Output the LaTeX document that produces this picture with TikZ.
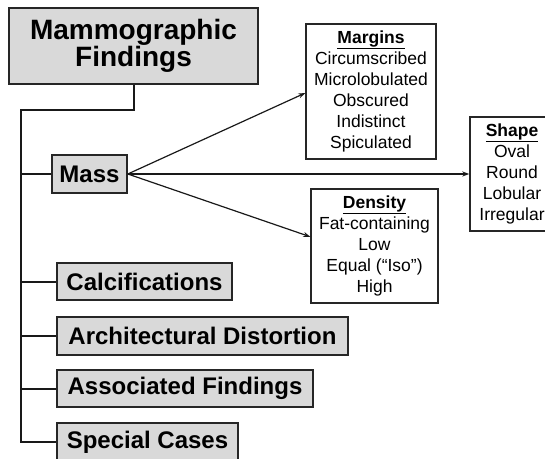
\documentclass[tikz,border=0pt]{standalone}
\usepackage{fontspec}
\setmainfont{Liberation Sans}
\usetikzlibrary{arrows.meta,calc}
\begin{document}
\begin{tikzpicture}[x=1pt,y=-1pt,
  graybox/.style={draw=black!85,line width=1.6pt,fill=black!15,inner sep=0pt,font=\fontsize{24}{28}\selectfont\bfseries},
  infobox/.style={draw=black!85,line width=1.4pt,fill=white,inner sep=0pt,align=center,font=\fontsize{17.5}{21}\selectfont},
  tree/.style={line width=2pt,black!90},
  arr/.style={line width=1.2pt,black!90,-{Stealth[length=7pt,width=5pt]}}]
\useasboundingbox (0,0) rectangle (545,458);
\node[graybox,minimum width=249pt,minimum height=76pt,align=center,font=\fontsize{28}{26}\selectfont\bfseries] (title) at (133.5,46) {Mammographic\\Findings};
\node[graybox,minimum width=75pt,minimum height=38pt] (mass) at (89.5,174) {Mass};
\node[graybox,minimum width=175pt,minimum height=37pt] (calc) at (144.5,281.5) {Calcifications};
\node[graybox,minimum width=291pt,minimum height=38pt] (arch) at (202.5,336) {Architectural Distortion};
\node[graybox,minimum width=256pt,minimum height=37pt] (assoc) at (185,388.5) {Associated Findings};
\node[graybox,minimum width=181pt,minimum height=38pt] (spec) at (147.5,442) {Special Cases};
\node[infobox,minimum width=130pt,minimum height=135pt] (margins) at (371,91.5) {\underline{\textbf{Margins}}\\Circumscribed\\Microlobulated\\Obscured\\Indistinct\\Spiculated};
\node[infobox,minimum width=127pt,minimum height=114pt] (density) at (374.5,246) {\underline{\textbf{Density}}\\Fat-containing\\Low\\Equal (``Iso'')\\High};
\node[infobox,minimum width=84pt,minimum height=114pt,text width=82pt] (shape) at (512,174) {\underline{\textbf{Shape}}\\Oval\\Round\\Lobular\\Irregular};
\coordinate (top) at (21,110);
\coordinate (bot) at (21,442);
\draw[tree] (title.south) |- (top) -- (bot) -- (spec.west);
\draw[tree] (mass.west) -- (mass.west -| top);
\draw[tree] (calc.west) -- (calc.west -| top);
\draw[tree] (arch.west) -- (arch.west -| top);
\draw[tree] (assoc.west) -- (assoc.west -| top);
\draw[arr] (mass.east) -- ($(margins.north west)!0.5!(margins.south west)+(0,1.5)$);
\draw[arr] (mass.east) -- (shape.west);
\draw[arr] (mass.east) -- ($(density.north west)!0.42!(density.south west)$);
\end{tikzpicture}
\end{document}
